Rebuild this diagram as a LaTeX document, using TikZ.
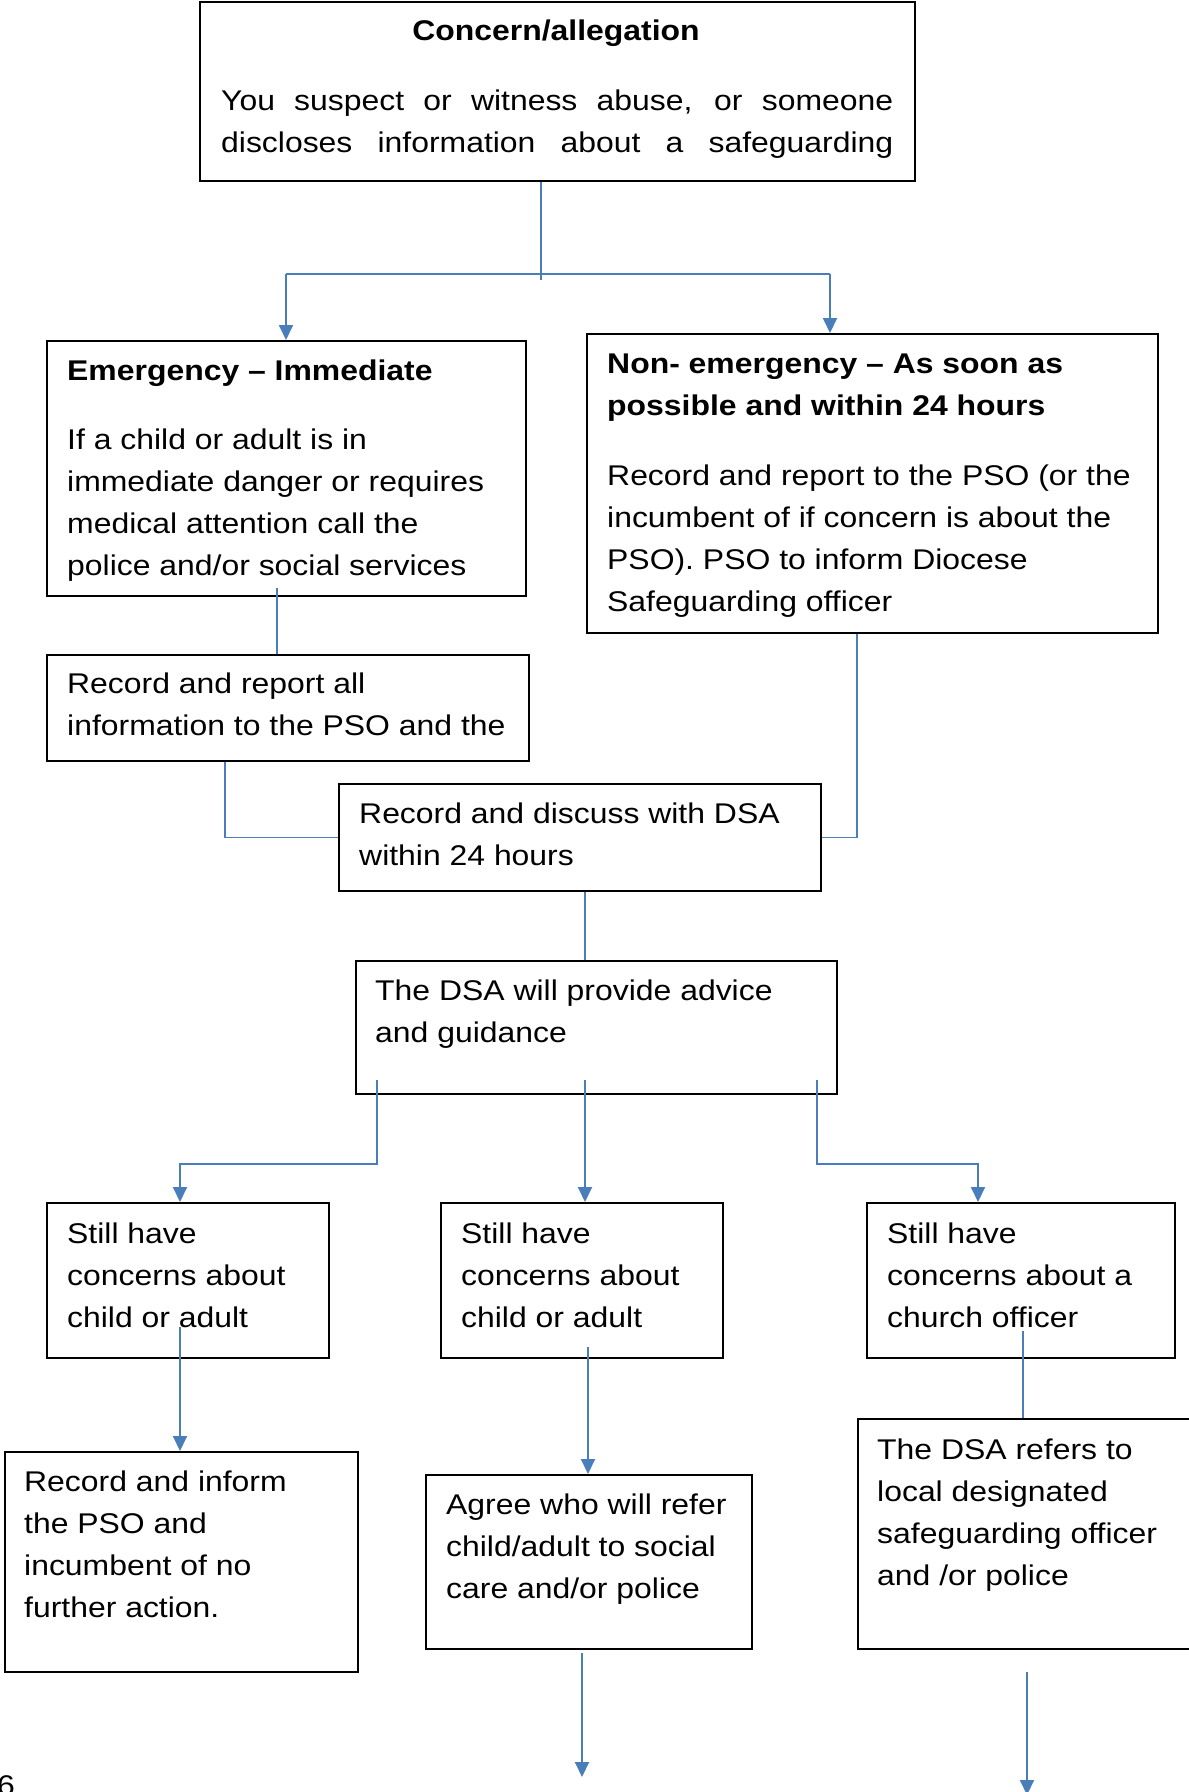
\documentclass[tikz,border=0pt]{standalone}
\usepackage{fontspec}
\setmainfont{Liberation Sans}[FakeStretch=1.12]
\usetikzlibrary{arrows.meta,calc}
\definecolor{conn}{RGB}{74,126,187}
\newcommand\mylines[1]{\parbox[t]{700pt}{\raggedright #1}}
\begin{document}
\begin{tikzpicture}[x=1pt,y=-1pt,
  box/.style={draw=black, line width=2pt, rectangle, inner sep=0pt, anchor=north west},
  txt/.style={anchor=base west, inner sep=0pt, font=\fontsize{28.5}{42.3}\selectfont},
  conline/.style={draw=conn, line width=1.9pt},
  arr/.style={conline, -{Triangle[length=15pt,width=14pt]}}]
\useasboundingbox[fill=white] (0,0) rectangle (1189,1792);

% boxes
\node[box, minimum width=715pt, minimum height=179pt] (top) at (199,1) {};
\node[box, minimum width=479pt, minimum height=255pt] (emerg) at (46,340) {};
\node[box, minimum width=571pt, minimum height=299pt] (nonem) at (586,333) {};
\node[box, minimum width=482pt, minimum height=106pt] (rr) at (46,654) {};
\node[box, minimum width=482pt, minimum height=107pt] (discuss) at (338,783) {};
\node[box, minimum width=481pt, minimum height=133pt] (advice) at (355,960) {};
\node[box, minimum width=282pt, minimum height=155pt] (s1) at (46,1202) {};
\node[box, minimum width=282pt, minimum height=155pt] (s2) at (440,1202) {};
\node[box, minimum width=308pt, minimum height=155pt] (s3) at (866,1202) {};
\node[box, minimum width=353pt, minimum height=220pt] (ri) at (4,1451) {};
\node[box, minimum width=326pt, minimum height=174pt] (agree) at (425,1474) {};
\node[box, minimum width=353pt, minimum height=230pt] (refers) at (857,1418) {};

% texts
\node[txt, anchor=base] (toptitle) at (556,40) {\textbf{Concern/allegation}};
\node[txt] (topl1) at (221,110) {\makebox[672pt][s]{You suspect or witness abuse, or someone}};
\node[txt] (topl2) at (221,152) {\makebox[672pt][s]{discloses information about a safeguarding}};

\node[txt] (emergt) at (67,380) {\textbf{Emergency – Immediate}};
\node[txt] (emergb) at (67,449) {\mylines{If a child or adult is in\\immediate danger or requires\\medical attention call the\\police and/or social services}};

\node[txt] (nonemt) at (607,373) {\mylines{\textbf{Non- emergency – As soon as}\\\textbf{possible and within 24 hours}}};
\node[txt] (nonemb) at (607,485) {\mylines{Record and report to the PSO (or the\\incumbent of if concern is about the\\PSO). PSO to inform Diocese\\Safeguarding officer}};

\node[txt] (rrt) at (67,693) {\mylines{Record and report all\\information to the PSO and the}};
\node[txt] (discusst) at (359,823) {\mylines{Record and discuss with DSA\\within 24 hours}};
\node[txt] (advicet) at (375,1000) {\mylines{The DSA will provide advice\\and guidance}};

\node[txt] (s1t) at (67,1243) {\mylines{Still have\\concerns about\\child or adult}};
\node[txt] (s2t) at (461,1243) {\mylines{Still have\\concerns about\\child or adult}};
\node[txt] (s3t) at (887,1243) {\mylines{Still have\\concerns about a\\church officer}};

\node[txt] (rit) at (24,1491) {\mylines{Record and inform\\the PSO and\\incumbent of no\\further action.}};
\node[txt] (agreet) at (446,1514) {\mylines{Agree who will refer\\child/adult to social\\care and/or police}};
\node[txt] (referst) at (877,1459) {\mylines{The DSA refers to\\local designated\\safeguarding officer\\and /or police}};

\node[txt] (pagenum) at (-3,1795) {6};

% connectors
\coordinate (j1) at (541,274);
\coordinate (j1b) at (541,280);
\coordinate (jl) at (286,274);
\coordinate (jr) at (830,274);
\draw[conline] (top.south -| j1) -- (j1b);
\draw[conline] (jl) -- (jr);
\draw[arr] (jl) -- (emerg.north -| jl);
\draw[arr] (jr) -- (nonem.north -| jr);

\coordinate (e1) at (277,588);
\draw[conline] (e1) -- (rr.north -| e1);
\coordinate (r1) at (225,760);
\draw[conline] (rr.south -| r1) |- (discuss.west);
\coordinate (n1) at (857,632);
\draw[conline] (nonem.south -| n1) |- (discuss.east);
\coordinate (d1) at (585,890);
\draw[conline] (discuss.south -| d1) -- (advice.north -| d1);

\coordinate (a1) at (377,1080);
\coordinate (a2) at (585,1080);
\coordinate (a3) at (817,1080);
\coordinate (b1) at (180,1164);
\coordinate (b3) at (978,1164);
\draw[arr] (a1) |- (b1) -- (s1.north -| b1);
\draw[arr] (a2) -- (s2.north -| a2);
\draw[arr] (a3) |- (b3) -- (s3.north -| b3);

\coordinate (c1) at (180,1327);
\coordinate (c2) at (588,1347);
\coordinate (c3) at (1023,1331);
\draw[arr] (c1) -- (ri.north -| c1);
\draw[arr] (c2) -- (agree.north -| c2);
\draw[conline] (c3) -- (refers.north -| c3);

\coordinate (g1) at (582,1653);
\coordinate (g2) at (582,1777);
\draw[arr] (g1) -- (g2);
\coordinate (h1) at (1027,1672);
\coordinate (h2) at (1027,1795);
\draw[arr] (h1) -- (h2);
\end{tikzpicture}
\end{document}
